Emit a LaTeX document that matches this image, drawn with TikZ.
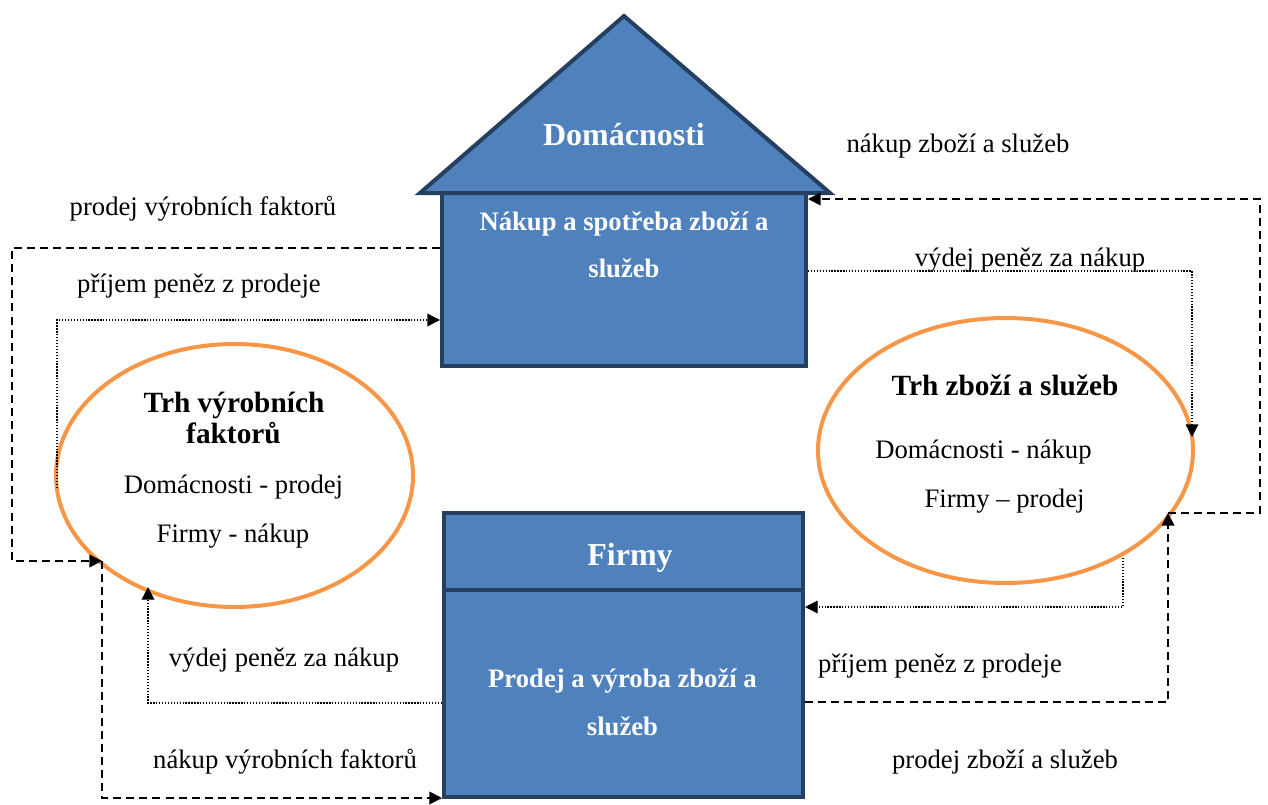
\documentclass[tikz,border=0pt]{standalone}
\usepackage{fontspec}
\setmainfont{Liberation Serif}
\usetikzlibrary{arrows.meta,shapes.geometric,fit}

\definecolor{hblue}{HTML}{4F81BD}
\definecolor{hdark}{HTML}{243F60}
\definecolor{morange}{HTML}{F79646}

\tikzset{
  block/.style={fill=hblue, draw=hdark, line width=3pt, inner sep=0pt, line join=miter},
  market/.style={ellipse, draw=morange, line width=3pt, inner sep=0pt},
  flowdash/.style={line width=1.4pt, dash pattern=on 6pt off 3.8pt},
  flowdot/.style={line width=1pt, dash pattern=on 1pt off 1.2pt},
  tip/.style={-{Triangle[length=9.5pt,width=9.5pt]}},
  lbl/.style={anchor=base, inner sep=0pt, font=\fontsize{20}{24}\selectfont},
  boxtxt/.style={anchor=base, inner sep=0pt, text=white, font=\bfseries\fontsize{20}{24}\selectfont},
  bigtxt/.style={anchor=base, inner sep=0pt, text=white, font=\bfseries\fontsize{24}{28}\selectfont},
  mkttitle/.style={anchor=base, inner sep=0pt, font=\bfseries\fontsize{22}{26}\selectfont},
}

\begin{document}
\begin{tikzpicture}[x=0.75pt, y=-0.75pt]
\useasboundingbox (0,0) rectangle (1268,804);

% --- households: house body and roof ---
\coordinate (hb1) at (442,193);
\coordinate (hb2) at (806,366);
\node[block, fit=(hb1)(hb2)] (homebody) {};
\draw[block] (420,193) -- (624,16) -- (830,193) -- cycle;
\coordinate (roofc) at (624,145);
\node[bigtxt] (hometitle) at (roofc) {Domácnosti};
\node[boxtxt] (hometxt1) at (624,230) {Nákup a spotřeba zboží a};
\node[boxtxt] (hometxt2) at (624,277) {služeb};

% --- firms: title box and body box ---
\coordinate (ft1) at (444,513);
\coordinate (ft2) at (803,590);
\coordinate (fb2) at (803,797);
\node[block, fit=(ft1)(ft2)] (firmtop) {};
\node[block, fit=(ft1 |- ft2)(fb2)] (firmbody) {};
\node[bigtxt] (firmtitle) at (630,565) {Firmy};
\node[boxtxt] (firmtxt1) at (622.5,687) {Prodej a výroba zboží a};
\node[boxtxt] (firmtxt2) at (622.5,735) {služeb};

% --- markets ---
\node[market, minimum width=267.75pt, minimum height=197.25pt] (lmkt) at (234.5,475.5) {};
\node[mkttitle] (lmt1) at (234,412) {Trh výrobních};
\node[mkttitle] (lmt2) at (233.5,443) {faktorů};
\node[lbl] (lmt3) at (233.5,493) {Domácnosti - prodej};
\node[lbl] (lmt4) at (233,542) {Firmy - nákup};

\node[market, minimum width=281.25pt, minimum height=198.75pt] (rmkt) at (1005.5,450.5) {};
\node[mkttitle] (rmt1) at (1005,395) {Trh zboží a služeb};
\node[lbl] (rmt2) at (983.5,458) {Domácnosti - nákup};
\node[lbl] (rmt3) at (1004.5,507) {Firmy – prodej};

% --- contact points on the market ellipses ---
\coordinate (lmA) at (102,561);
\coordinate (lmB) at (148,587);
\coordinate (lmC) at (57,488);
\coordinate (rmA) at (1168,513);
\coordinate (rmB) at (1192,437);
\coordinate (rmC) at (1123,558);

% --- flows of the factor market (left) ---
\draw[flowdash, tip] (homebody.west |- 0,248) -- (12,248) |- (lmA);
\draw[flowdot, tip] (lmC) |- (homebody.west |- 0,320);
\draw[flowdash, tip] (lmA) |- (firmbody.west |- 0,798);
\draw[flowdot, tip] (firmbody.west |- 0,703) -| (lmB);

% --- flows of the goods market (right) ---
\draw[flowdash, tip] (rmA) -- (1260,513) |- (homebody.east |- 0,199);
\draw[flowdot, tip] (homebody.east |- 0,271) -| (rmB);
\draw[flowdot, tip] (rmC) |- (firmbody.east |- 0,607);
\draw[flowdash, tip] (firmbody.east |- 0,702) -| (rmA);

% --- flow labels ---
\node[lbl] (l1) at (203,215) {prodej výrobních faktorů};
\node[lbl] (l2) at (199,292) {příjem peněz z prodeje};
\node[lbl] (l3) at (284,666) {výdej peněz za nákup};
\node[lbl] (l4) at (285,768) {nákup výrobních faktorů};
\node[lbl] (l5) at (958,152) {nákup zboží a služeb};
\node[lbl] (l6) at (1030,266) {výdej peněz za nákup};
\node[lbl] (l7) at (940,672) {příjem peněz z prodeje};
\node[lbl] (l8) at (1005,768) {prodej zboží a služeb};
\end{tikzpicture}
\end{document}
